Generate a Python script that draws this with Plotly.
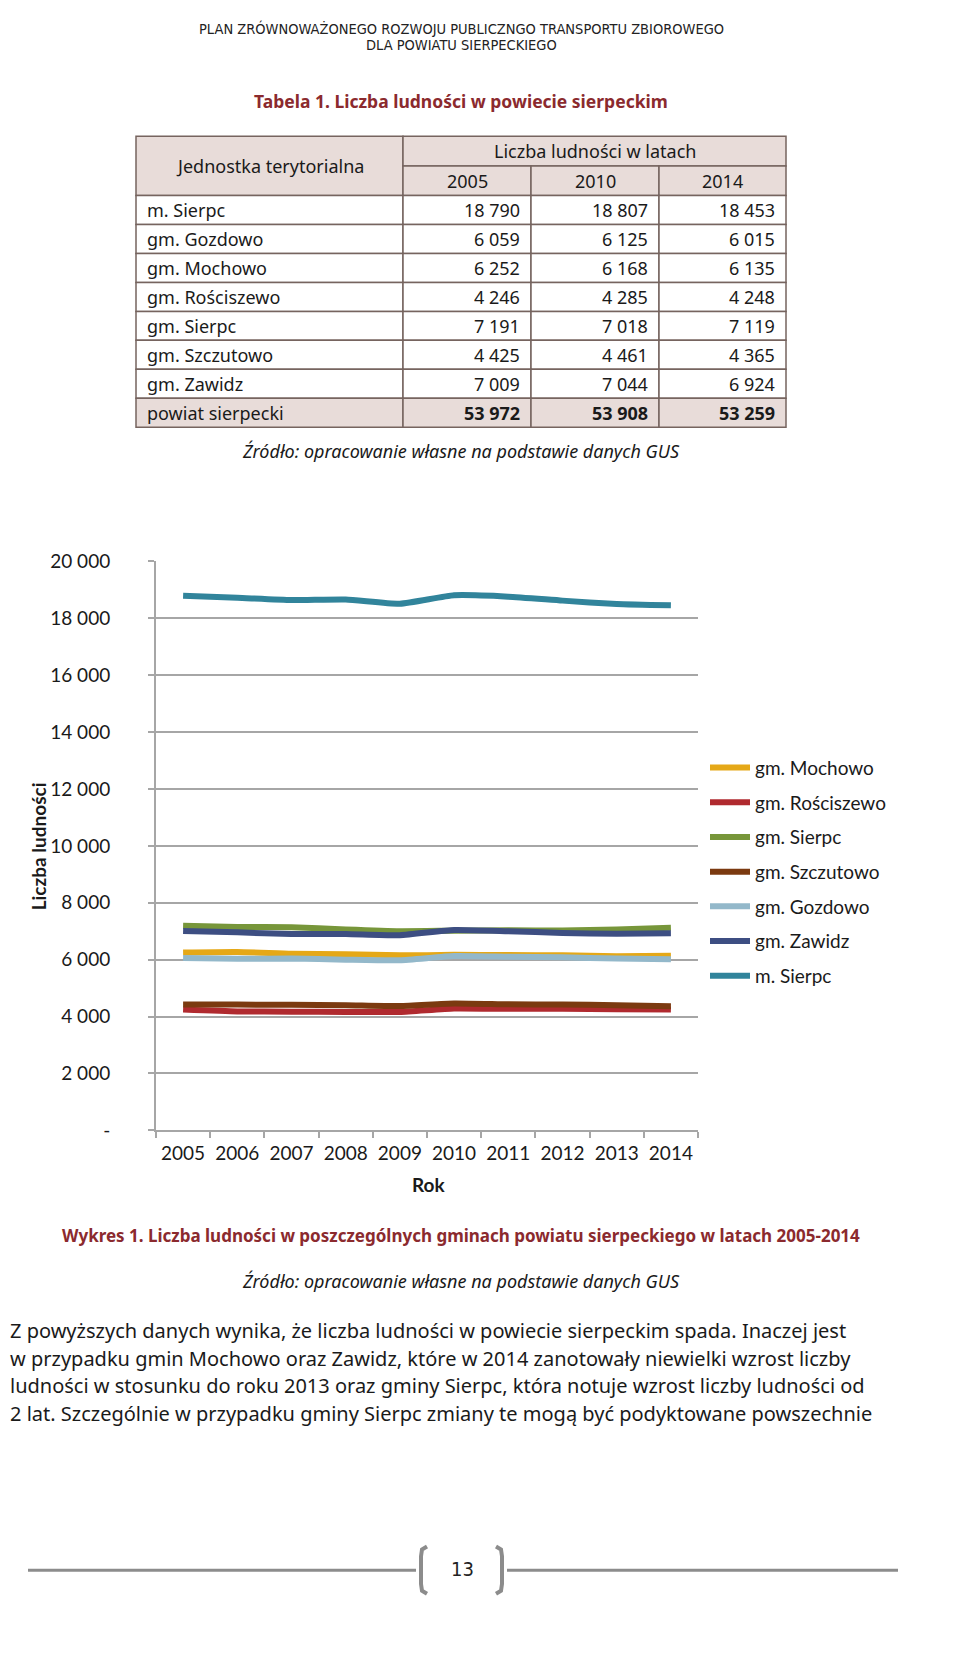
import plotly.graph_objects as go

# ---------------- DATA ----------------
years = ["2005", "2006", "2007", "2008", "2009", "2010", "2011", "2012", "2013", "2014"]

series_names = ["gm. Mochowo", "gm. Rościszewo", "gm. Sierpc", "gm. Szczutowo",
                "gm. Gozdowo", "gm. Zawidz", "m. Sierpc"]
mochowo    = [6252, 6270, 6210, 6190, 6150, 6168, 6160, 6150, 6120, 6135]
rosciszewo = [4246, 4180, 4170, 4160, 4160, 4285, 4270, 4270, 4260, 4248]
gm_sierpc  = [7191, 7150, 7140, 7060, 7000, 7018, 7030, 7020, 7060, 7119]
szczutowo  = [4425, 4420, 4410, 4400, 4370, 4461, 4430, 4420, 4400, 4365]
gozdowo    = [6059, 6030, 6040, 6000, 5980, 6125, 6100, 6080, 6040, 6015]
zawidz     = [7009, 6960, 6900, 6900, 6860, 7044, 7000, 6940, 6910, 6924]
m_sierpc   = [18790, 18720, 18640, 18660, 18510, 18807, 18760, 18620, 18500, 18453]
series_values = [mochowo, rosciszewo, gm_sierpc, szczutowo, gozdowo, zawidz, m_sierpc]
series_colors = ["#E5A817", "#B02A2F", "#77963A", "#7B3A10", "#93B8CA", "#3D4E82", "#31849B"]

y_tick_vals = [0, 2000, 4000, 6000, 8000, 10000, 12000, 14000, 16000, 18000, 20000]
y_tick_text = ["-", "2 000", "4 000", "6 000", "8 000", "10 000", "12 000",
               "14 000", "16 000", "18 000", "20 000"]

table_units = ["m. Sierpc", "gm. Gozdowo", "gm. Mochowo", "gm. Rościszewo",
               "gm. Sierpc", "gm. Szczutowo", "gm. Zawidz", "powiat sierpecki"]
table_years = ["2005", "2010", "2014"]
pop_2005 = [18790, 6059, 6252, 4246, 7191, 4425, 7009, 53972]
pop_2010 = [18807, 6125, 6168, 4285, 7018, 4461, 7044, 53908]
pop_2014 = [18453, 6015, 6135, 4248, 7119, 4365, 6924, 53259]

header_lines = ["PLAN ZRÓWNOWAŻONEGO ROZWOJU PUBLICZNGO TRANSPORTU ZBIOROWEGO",
                "DLA POWIATU SIERPECKIEGO"]
table_caption = "Tabela 1. Liczba ludności w powiecie sierpeckim"
source_text = "Źródło: opracowanie własne na podstawie danych GUS"
chart_caption = ("Wykres 1. Liczba ludności w poszczególnych gminach powiatu "
                 "sierpeckiego w latach 2005-2014")
paragraph_lines = [
    "Z powyższych danych wynika, że liczba ludności w powiecie sierpeckim spada. Inaczej jest",
    "w przypadku gmin Mochowo oraz Zawidz, które w 2014 zanotowały niewielki wzrost liczby",
    "ludności w stosunku do roku 2013 oraz gminy Sierpc, która notuje wzrost liczby ludności od",
    "2 lat. Szczególnie w przypadku gminy Sierpc zmiany te mogą być podyktowane powszechnie",
]
page_number = "13"

# ---------------- LAYOUT HELPERS ----------------
W, H = 960, 1653
def px(x):
    return x / W
def py(y):
    return 1 - y / H

TXT = "Noto Sans, DejaVu Sans, sans-serif"
CHART_FONT = "Lato, Open Sans, sans-serif"
NARROW = "Liberation Sans Narrow, DejaVu Sans Condensed, Roboto, sans-serif"
RED = "#8B2A2E"
GRID = "#a6a6a6"

fig = go.Figure()

for name, vals, col in zip(series_names, series_values, series_colors):
    fig.add_trace(go.Scatter(
        x=years, y=vals, name=name, mode="lines",
        line=dict(color=col, width=6, shape="spline", smoothing=0.5),
        legendgroup=name, hoverinfo="x+y+name"))

shapes = []
annotations = []

def text(x, y, s, size=16, color="#1a1a1a", family=TXT, xanchor="center", **kw):
    annotations.append(dict(x=px(x), y=py(y), xref="paper", yref="paper", text=s,
                            showarrow=False, xanchor=xanchor, yanchor="middle",
                            font=dict(size=size, color=color, family=family), **kw))

# header
text(453, 9, header_lines[0], size=14.5, color="#222", family=NARROW)
text(453, 25, header_lines[1], size=14.5, color="#222", family=NARROW)
text(453, 82, "<b>" + table_caption + "</b>", size=17.5, color=RED, family=TXT)

# ---------------- TABLE ----------------
col_edges = [128, 395, 523, 651, 778]
t_top, h1, h2 = 118, 148, 178
row_h = (413 - 178) / len(table_units)
HFILL = "#E8DCD9"
BORDER = "#76645f"

def rect(x0, y0, x1, y1, fill):
    shapes.append(dict(type="rect", xref="paper", yref="paper",
                       x0=px(x0), x1=px(x1), y0=py(y1), y1=py(y0),
                       fillcolor=fill, line=dict(color=BORDER, width=1.5), layer="below"))

rect(col_edges[0], t_top, col_edges[1], h2, HFILL)
rect(col_edges[1], t_top, col_edges[4], h1, HFILL)
for j in range(3):
    rect(col_edges[j + 1], h1, col_edges[j + 2], h2, HFILL)
text((col_edges[0] + col_edges[1]) / 2, (t_top + h2) / 2, "Jednostka terytorialna", size=18)
text((col_edges[1] + col_edges[4]) / 2, (t_top + h1) / 2, "Liczba ludności w latach", size=18)
for j, yr in enumerate(table_years):
    text((col_edges[j + 1] + col_edges[j + 2]) / 2, (h1 + h2) / 2, yr, size=18)

def fmt(v):
    return f"{v:,}".replace(",", " ")

cols = [pop_2005, pop_2010, pop_2014]
for i, unit in enumerate(table_units):
    y0 = h2 + i * row_h
    y1 = y0 + row_h
    is_total = (i == len(table_units) - 1)
    fill = HFILL if is_total else "white"
    for j in range(4):
        rect(col_edges[j], y0, col_edges[j + 1], y1, fill)
    yc = (y0 + y1) / 2
    text(col_edges[0] + 9, yc, unit, size=18, xanchor="left")
    for j in range(3):
        s = fmt(cols[j][i])
        if is_total:
            s = "<b>" + s + "</b>"
        text(col_edges[j + 2] - 9, yc, s, size=18, xanchor="right")

text(453, 437, "<i>" + source_text + "</i>", size=18, color="#1a1a1a")

# ---------------- CHART TEXT ----------------
text(30, 838, "<b>Liczba ludności</b>", size=19, family=CHART_FONT, textangle=-90)
text(420, 1181, "<b>Rok</b>", size=19, family=CHART_FONT)
text(453, 1233, "<b>" + chart_caption + "</b>", size=17, color=RED)
text(453, 1279, "<i>" + source_text + "</i>", size=18)

for k, line in enumerate(paragraph_lines):
    text(0, 1329 + k * 28, line, size=20, xanchor="left")

# ---------------- FOOTER ----------------
FOOT = "#8c8c8c"
shapes.append(dict(type="line", xref="paper", yref="paper", x0=px(20), x1=px(408),
                   y0=py(1572), y1=py(1572), line=dict(color=FOOT, width=3)))
shapes.append(dict(type="line", xref="paper", yref="paper", x0=px(499), x1=px(890),
                   y0=py(1572), y1=py(1572), line=dict(color=FOOT, width=3)))

def bracket(xs, direction):
    d = direction
    pts = [(xs + 6 * d, 1548), (xs + 1 * d, 1551), (xs, 1558), (xs, 1586), (xs + 1 * d, 1593), (xs + 6 * d, 1596)]
    path = "M" + " L".join(f"{px(a)},{py(b)}" for a, b in pts)
    shapes.append(dict(type="path", xref="paper", yref="paper", path=path,
                       line=dict(color=FOOT, width=4)))

bracket(413, +1)
bracket(494, -1)
text(454, 1571, page_number, size=20, color="#222", family=NARROW)

# ---------------- AXES ----------------
fig.update_layout(
    width=W, height=H, margin=dict(l=0, r=0, t=0, b=0),
    paper_bgcolor="white", plot_bgcolor="white",
    showlegend=True,
    legend=dict(x=px(697), y=py(739), xanchor="left", yanchor="top",
                font=dict(family=CHART_FONT, size=19, color="#1a1a1a"),
                bgcolor="rgba(0,0,0,0)", traceorder="grouped", tracegroupgap=7,
                itemwidth=40),
    xaxis=dict(domain=[px(148), px(690)], type="category", range=[-0.5, 9.5],
               showgrid=False, showline=True, linecolor=GRID, linewidth=2,
               ticks="outside", ticklen=6, tickcolor=GRID, tickwidth=2,
               tickson="boundaries",
               tickfont=dict(family=CHART_FONT, size=19, color="#1a1a1a"),
               ticklabelstandoff=5, fixedrange=True),
    yaxis=dict(domain=[py(1126), py(549)], range=[0, 20000],
               tickvals=y_tick_vals, ticktext=y_tick_text,
               showgrid=True, gridcolor=GRID, gridwidth=2,
               showline=True, linecolor=GRID, linewidth=2,
               ticks="outside", ticklen=6, tickcolor=GRID, tickwidth=2,
               zeroline=False,
               tickfont=dict(family=CHART_FONT, size=19, color="#1a1a1a"),
               ticklabelstandoff=34, fixedrange=True),
    shapes=shapes, annotations=annotations,
)

fig.write_html("out.html")
